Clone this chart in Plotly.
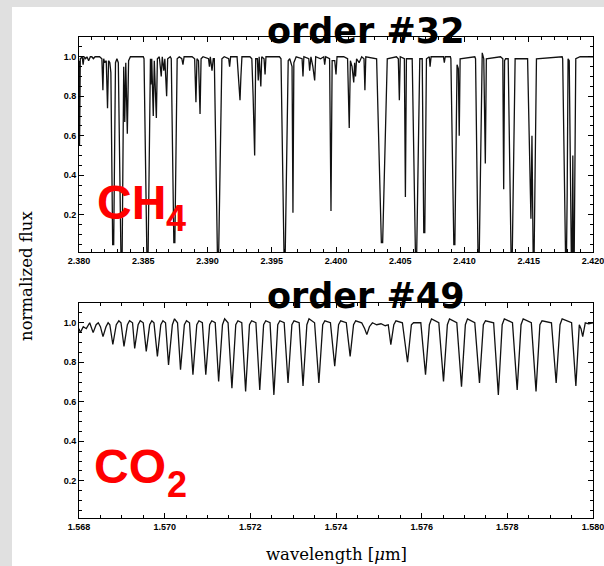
import plotly.graph_objects as go

# ---------------- data: order #32 (CH4), (wavelength [um], normalized flux) ----------------
ch4_points = [
    (2.38000, 0.98), (2.38004, 0.55), (2.38010, 0.99), (2.38025, 1.00), (2.38032, 0.96),
    (2.38040, 1.00), (2.38052, 0.99), (2.38062, 1.00), (2.38075, 0.98), (2.38088, 1.00),
    (2.38100, 1.00), (2.38112, 0.99), (2.38125, 1.00), (2.38160, 1.00), (2.38178, 0.99),
    (2.38186, 0.83), (2.38192, 0.99), (2.38200, 0.97), (2.38212, 0.98), (2.38222, 0.74),
    (2.38230, 0.98), (2.38240, 0.97), (2.38248, 0.92), (2.38262, 0.05), (2.38270, 0.05),
    (2.38284, 0.97), (2.38295, 0.99), (2.38306, 0.97), (2.38326, 0.01), (2.38336, 0.01),
    (2.38348, 0.95), (2.38356, 0.67), (2.38364, 0.97), (2.38376, 0.61), (2.38386, 0.98),
    (2.38400, 1.00), (2.38500, 1.00), (2.38506, 0.99), (2.38528, 0.01), (2.38538, 0.01),
    (2.38556, 0.99), (2.38560, 0.86), (2.38566, 0.99), (2.38578, 0.70), (2.38586, 0.98),
    (2.38602, 0.69), (2.38610, 0.99), (2.38625, 1.00), (2.38640, 0.90), (2.38648, 1.00),
    (2.38660, 0.93), (2.38668, 0.99), (2.38682, 0.80), (2.38690, 0.99), (2.38710, 1.00),
    (2.38718, 0.99), (2.38738, 0.06), (2.38746, 0.06), (2.38764, 0.99), (2.38780, 1.00),
    (2.38800, 0.99), (2.38809, 0.96), (2.38818, 1.00), (2.38880, 1.00), (2.38900, 0.99),
    (2.38910, 0.77), (2.38918, 0.99), (2.38930, 0.98), (2.38942, 0.71), (2.38950, 0.99),
    (2.38965, 1.00), (2.39008, 0.99), (2.39015, 0.95), (2.39022, 1.00), (2.39035, 0.93),
    (2.39045, 0.99), (2.39053, 0.99), (2.39077, 0.01), (2.39087, 0.01), (2.39112, 0.99),
    (2.39130, 1.00), (2.39165, 0.99), (2.39172, 0.95), (2.39180, 1.00), (2.39230, 1.00),
    (2.39240, 0.90), (2.39248, 0.80), (2.39253, 0.78), (2.39260, 0.90), (2.39268, 1.00),
    (2.39330, 1.00), (2.39345, 0.99), (2.39355, 0.80), (2.39367, 0.50), (2.39375, 0.99),
    (2.39388, 0.99), (2.39395, 0.88), (2.39402, 1.00), (2.39415, 0.85), (2.39422, 1.00),
    (2.39440, 0.99), (2.39448, 0.91), (2.39455, 1.00), (2.39560, 1.00), (2.39572, 0.99),
    (2.39595, 0.01), (2.39605, 0.01), (2.39628, 0.98), (2.39640, 0.99), (2.39658, 0.95),
    (2.39665, 0.21), (2.39672, 0.97), (2.39690, 1.00), (2.39736, 0.99), (2.39743, 0.90),
    (2.39750, 1.00), (2.39788, 0.99), (2.39795, 0.93), (2.39805, 1.00), (2.39820, 0.95),
    (2.39834, 0.88), (2.39842, 1.00), (2.39880, 0.99), (2.39905, 1.00), (2.39912, 0.96),
    (2.39920, 1.00), (2.39950, 0.99), (2.39961, 0.22), (2.39970, 0.98), (2.39990, 0.98),
    (2.40000, 0.91), (2.40008, 1.00), (2.40060, 1.00), (2.40090, 0.99), (2.40103, 0.64),
    (2.40112, 0.98), (2.40125, 0.95), (2.40138, 0.87), (2.40145, 0.97), (2.40152, 0.90),
    (2.40160, 0.99), (2.40180, 0.97), (2.40200, 1.00), (2.40218, 0.99), (2.40225, 0.83),
    (2.40232, 1.00), (2.40316, 0.99), (2.40353, 0.06), (2.40363, 0.06), (2.40399, 0.99),
    (2.40470, 1.00), (2.40485, 0.99), (2.40493, 0.78), (2.40500, 1.00), (2.40532, 0.99),
    (2.40540, 0.29), (2.40548, 0.99), (2.40593, 0.99), (2.40618, 0.01), (2.40628, 0.01),
    (2.40652, 0.99), (2.40671, 0.99), (2.40683, 0.11), (2.40691, 0.11), (2.40704, 0.99),
    (2.40726, 1.00), (2.40732, 0.95), (2.40740, 1.00), (2.40836, 1.00), (2.40843, 0.97),
    (2.40850, 1.00), (2.40890, 1.00), (2.40894, 0.99), (2.40917, 0.05), (2.40925, 0.05),
    (2.40942, 0.96), (2.40952, 0.94), (2.40959, 0.60), (2.40966, 0.99), (2.41080, 1.00),
    (2.41086, 0.99), (2.41105, 0.01), (2.41115, 0.01), (2.41132, 0.98), (2.41138, 1.02),
    (2.41150, 0.99), (2.41162, 0.46), (2.41170, 0.99), (2.41280, 1.00), (2.41298, 0.99),
    (2.41305, 0.33), (2.41312, 0.98), (2.41320, 0.99), (2.41340, 0.99), (2.41362, 0.01),
    (2.41372, 0.01), (2.41394, 0.99), (2.41491, 0.99), (2.41517, 0.18), (2.41525, 0.60),
    (2.41534, 0.01), (2.41542, 0.01), (2.41560, 0.99), (2.41760, 1.00), (2.41764, 0.99),
    (2.41786, 0.01), (2.41794, 0.01), (2.41799, 0.30), (2.41806, 0.99), (2.41815, 0.98),
    (2.41831, 0.01), (2.41838, 0.01), (2.41843, 0.50), (2.41847, 0.01), (2.41854, 0.01),
    (2.41866, 0.99), (2.41900, 1.00), (2.42000, 1.00),
]

# ---------------- data: order #49 (CO2), (wavelength [um], normalized flux) ----------------
co2_points = [
    (1.56800, 0.97), (1.56803, 0.95), (1.56810, 0.98), (1.56817, 0.97), (1.56825, 1.00),
    (1.56833, 0.95), (1.56840, 0.99), (1.56845, 1.00), (1.56850, 0.98), (1.56856, 0.93),
    (1.56863, 0.98), (1.56868, 1.00), (1.56872, 0.99), (1.56879, 0.89), (1.56887, 0.99),
    (1.56893, 1.01), (1.56898, 1.00), (1.56905, 0.88), (1.56913, 0.99), (1.56918, 1.01),
    (1.56925, 1.00), (1.56930, 0.87), (1.56938, 0.99), (1.56943, 1.01), (1.56950, 1.00),
    (1.56957, 0.855), (1.56965, 0.99), (1.56970, 1.01), (1.56975, 1.00), (1.56983, 0.83),
    (1.56991, 0.99), (1.56996, 1.01), (1.57002, 1.00), (1.57009, 0.787), (1.57018, 0.99),
    (1.57023, 1.02), (1.57030, 1.00), (1.57037, 0.762), (1.57046, 0.99), (1.57051, 1.01),
    (1.57058, 1.00), (1.57066, 0.737), (1.57075, 0.99), (1.57080, 1.01), (1.57088, 1.00),
    (1.57096, 0.737), (1.57105, 0.99), (1.57110, 1.01), (1.57118, 1.00), (1.57126, 0.703),
    (1.57135, 0.99), (1.57140, 1.02), (1.57148, 1.00), (1.57157, 0.669), (1.57166, 0.99),
    (1.57171, 1.01), (1.57180, 1.00), (1.57189, 0.652), (1.57198, 0.99), (1.57203, 1.01),
    (1.57213, 1.00), (1.57222, 0.66), (1.57231, 0.99), (1.57236, 1.01), (1.57246, 1.00),
    (1.57255, 0.635), (1.57264, 0.99), (1.57269, 1.01), (1.57279, 1.00), (1.57288, 0.695),
    (1.57297, 0.99), (1.57302, 1.01), (1.57314, 1.00), (1.57323, 0.68), (1.57332, 0.99),
    (1.57337, 1.02), (1.57350, 1.00), (1.57360, 0.695), (1.57369, 0.99), (1.57374, 1.01),
    (1.57387, 1.00), (1.57397, 0.78), (1.57406, 0.99), (1.57411, 1.01), (1.57424, 1.00),
    (1.57433, 0.83), (1.57441, 0.99), (1.57446, 1.01), (1.57460, 1.00), (1.57467, 0.97),
    (1.57472, 0.94), (1.57478, 0.98), (1.57485, 1.00), (1.57495, 0.99), (1.57505, 0.995),
    (1.57515, 0.985), (1.57522, 0.99), (1.57528, 0.889), (1.57535, 0.99), (1.57540, 1.01),
    (1.57555, 1.00), (1.57567, 0.80), (1.57576, 0.99), (1.57581, 1.00), (1.57598, 1.00),
    (1.57609, 0.737), (1.57618, 0.99), (1.57623, 1.02), (1.57640, 1.00), (1.57651, 0.703),
    (1.57660, 0.99), (1.57665, 1.02), (1.57682, 1.00), (1.57693, 0.677), (1.57702, 0.99),
    (1.57707, 1.02), (1.57724, 1.00), (1.57735, 0.695), (1.57744, 0.99), (1.57749, 1.01),
    (1.57768, 1.00), (1.57779, 0.635), (1.57788, 0.99), (1.57793, 1.02), (1.57812, 1.00),
    (1.57823, 0.66), (1.57832, 0.99), (1.57837, 1.02), (1.57856, 1.00), (1.57867, 0.652),
    (1.57876, 0.99), (1.57881, 1.01), (1.57903, 1.00), (1.57914, 0.695), (1.57923, 0.99),
    (1.57928, 1.02), (1.57950, 1.00), (1.57960, 0.68), (1.57968, 0.99), (1.57972, 0.97),
    (1.57976, 0.93), (1.57982, 1.00), (1.57990, 0.995), (1.58000, 1.00),
]

ch4_ticks = [2.380, 2.385, 2.390, 2.395, 2.400, 2.405, 2.410, 2.415, 2.420]
co2_ticks = [1.568, 1.570, 1.572, 1.574, 1.576, 1.578, 1.580]
flux_ticks = [0.2, 0.4, 0.6, 0.8, 1.0]

ch4_wavelength = [p[0] for p in ch4_points]
ch4_flux = [p[1] for p in ch4_points]
co2_wavelength = [p[0] for p in co2_points]
co2_flux = [p[1] for p in co2_points]

# ---------------- figure ----------------
W, H = 604, 566
def px(x):
    return x / W
def py(y):
    return 1 - y / H

fig = go.Figure()
fig.add_trace(go.Scatter(x=ch4_wavelength, y=ch4_flux, mode="lines",
                         line=dict(color="#111111", width=1.3), xaxis="x", yaxis="y",
                         showlegend=False, hoverinfo="skip"))
fig.add_trace(go.Scatter(x=co2_wavelength, y=co2_flux, mode="lines",
                         line=dict(color="#111111", width=1.3), xaxis="x2", yaxis="y2",
                         showlegend=False, hoverinfo="skip"))

tickfont = dict(family="Liberation Sans", size=9, color="black", weight="bold")
common = dict(showline=True, linecolor="black", linewidth=1, mirror="allticks",
              ticks="inside", ticklen=5, tickcolor="black", tickwidth=1,
              showgrid=False, zeroline=False, automargin=False, tickfont=tickfont,
              ticklabeloverflow="allow")

fig.update_layout(
    width=W, height=H,
    margin=dict(l=0, r=0, t=0, b=0),
    paper_bgcolor="white", plot_bgcolor="white",
    template="none",
    xaxis=dict(domain=[px(79), px(593)], anchor="y", range=[2.380, 2.420],
               tickvals=ch4_ticks, tickformat=".3f",
               minor=dict(dtick=0.001, tick0=2.380, ticks="inside", ticklen=3, tickcolor="black"),
               **common),
    yaxis=dict(domain=[py(252), py(37)], anchor="x", range=[0.012, 1.10],
               tickvals=flux_ticks, tickformat=".1f",
               minor=dict(dtick=0.05, tick0=0, ticks="inside", ticklen=3, tickcolor="black"),
               **common),
    xaxis2=dict(domain=[px(79), px(593)], anchor="y2", range=[1.568, 1.580],
                tickvals=co2_ticks, tickformat=".3f",
                minor=dict(dtick=0.0005, tick0=1.568, ticks="inside", ticklen=3, tickcolor="black"),
                **common),
    yaxis2=dict(domain=[py(518), py(303)], anchor="x2", range=[0.012, 1.10],
                tickvals=flux_ticks, tickformat=".1f",
                minor=dict(dtick=0.05, tick0=0, ticks="inside", ticklen=3, tickcolor="black"),
                **common),
)

# grey frame bands
fig.add_shape(type="rect", xref="paper", yref="paper", x0=0, x1=px(12), y0=0, y1=1,
              fillcolor="#e0e0e0", line=dict(width=0), layer="below")
fig.add_shape(type="rect", xref="paper", yref="paper", x0=0, x1=1, y0=py(7), y1=1,
              fillcolor="#e0e0e0", line=dict(width=0), layer="below")

title_font = dict(family="DejaVu Sans", size=35, color="black", weight="bold")
label_font = dict(family="Liberation Sans", size=48, color="#ff0000", weight="bold")
sub_font = dict(family="Liberation Sans", size=36, color="#ff0000", weight="bold")
serif = dict(family="DejaVu Serif", size=16.5, color="black")

ann = [
    dict(text="order #32", x=px(366), y=py(31), font=title_font),
    dict(text="order #49", x=px(366), y=py(296), font=title_font),
    dict(text="CH", x=px(131), y=py(202), font=label_font),
    dict(text="4", x=px(176), y=py(218), font=sub_font),
    dict(text="CO", x=px(130), y=py(466), font=label_font),
    dict(text="2", x=px(177), y=py(484), font=sub_font),
    dict(text="normalized flux", x=px(26), y=py(276), textangle=-90, font=serif),
    dict(text="wavelength [<i>μ</i>m]", x=px(336), y=py(554), font=serif),
]
for a in ann:
    fig.add_annotation(xref="paper", yref="paper", showarrow=False,
                       xanchor="center", yanchor="middle", **a)

fig.write_html("out.html", config={"displayModeBar": False},
               post_script="document.body.style.margin='0';document.body.style.overflow='hidden';")
